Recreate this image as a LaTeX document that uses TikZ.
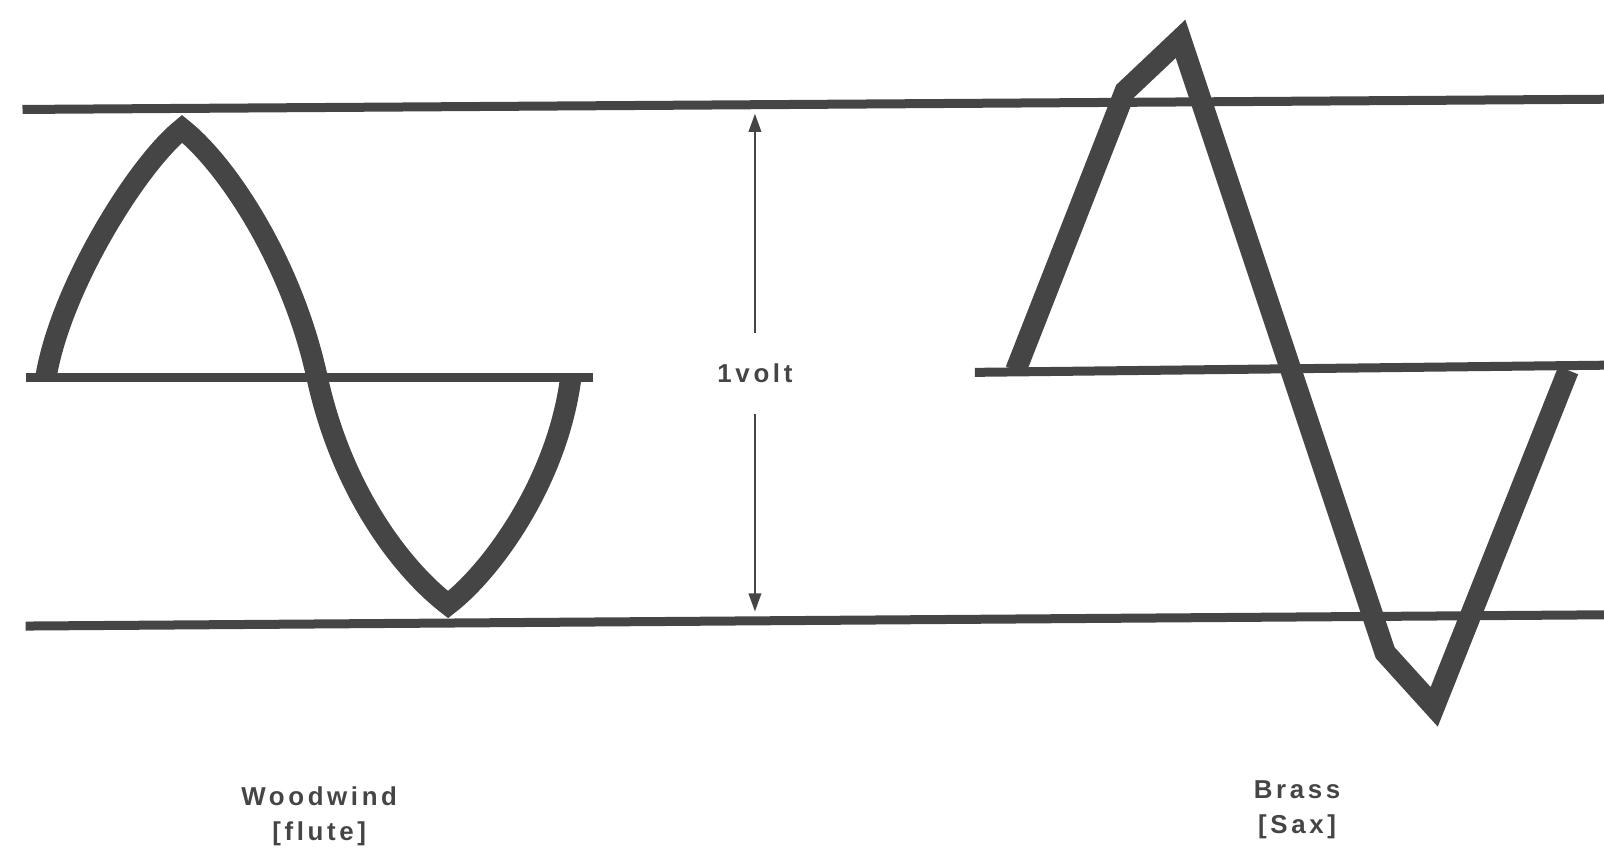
\documentclass[tikz,border=0pt]{standalone}
\usepackage{fontspec}
\newfontfamily\capfont[LetterSpace=14]{Liberation Sans}
\usepackage{xcolor}
\usepackage{tikz}
\usetikzlibrary{arrows.meta}
\definecolor{ink}{gray}{0.27}

\begin{document}
\begin{tikzpicture}[
  x=0.25mm, y=-0.25mm,
  font=\capfont\bfseries\fontsize{18}{22}\selectfont,
  level/.style={draw=ink, line width=2.2mm},
  wave/.style={draw=ink, line width=5.2mm, line join=miter},
  lbl/.style={text=ink, align=center, inner sep=0pt},
  arr/.style={-{Triangle[length=4.5mm, width=3mm]}, draw=ink, line width=0.7mm}
]
\useasboundingbox (0,0) rectangle (1568,828);
% reference levels
\draw[level] (22,107) -- (1568,97);
\draw[level] (25,612) -- (1568,601);
\draw[level] (25,369) -- (580,369);
\draw[level] (953,364) -- (1568,357);
% woodwind wave
\draw[wave] (45,368) .. controls (60,280) and (135,160) .. (178,126)
  .. controls (221,160) and (285,255) .. (310,369)
  .. controls (335,483) and (395,558) .. (438,591)
  .. controls (481,558) and (545,470) .. (558,369);
% brass wave
\draw[wave] (993,362) -- (1100,89) -- (1154,38) -- (1354,638)
  -- (1402,691) -- (1533,362);
% amplitude
\node[lbl, inner ysep=7.5mm] (volt) at (738,365) {1volt};
\coordinate (vtop) at (738,111);
\coordinate (vbot) at (738,598);
\draw[arr] (volt) -- (vtop);
\draw[arr] (volt) -- (vbot);
% captions
\node[lbl] (wood) at (312,778) {Woodwind};
\node[lbl] (flute) at (312,815) {[flute]};
\node[lbl] (brass) at (1268,772) {Brass};
\node[lbl] (sax) at (1268,808) {[Sax]};
\end{tikzpicture}
\end{document}
